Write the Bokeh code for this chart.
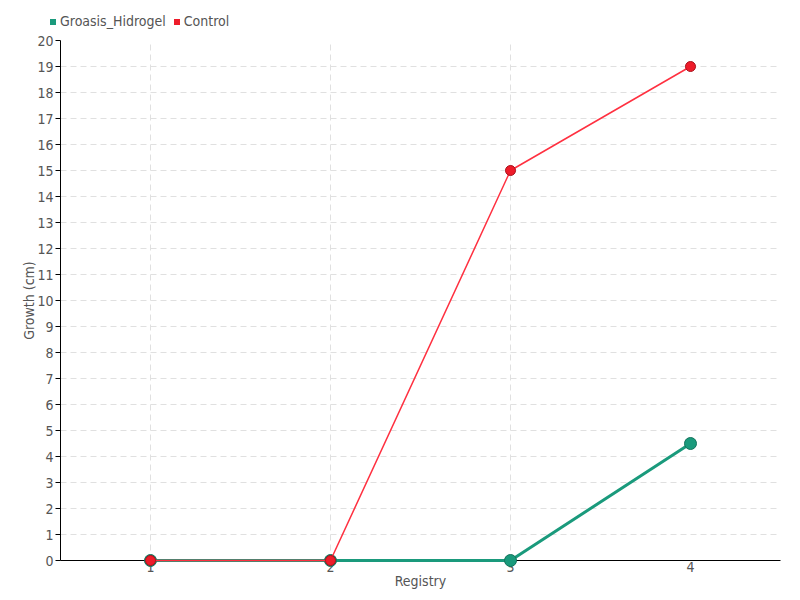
from bokeh.plotting import figure
from bokeh.models import (ColumnDataSource, FixedTicker, Legend, LegendItem,
                          Range1d, FactorRange)
from bokeh.embed import file_html
from bokeh.resources import INLINE

registry = ["1", "2", "3", "4"]
groasis = [0, 0, 0, 4.5]
control = [0, 0, 15, 19]
y_ticks = list(range(0, 21))

FONT = "DejaVu Sans Condensed"
TXT = "#555555"
GREEN = "#1a9a7c"
RED = "#ee1c2a"

src = ColumnDataSource(dict(x=registry, g=groasis, c=control))

# legend strip
lg = figure(x_range=FactorRange(*registry), y_range=Range1d(0, 20),
            width=800, height=30, min_border=0,
            x_axis_type=None, y_axis_type=None,
            output_backend="svg", toolbar_location=None)
lg.outline_line_color = None
lg.xgrid.visible = False
lg.ygrid.visible = False
gleg = lg.scatter("x", "g", source=src, marker="square", size=0, fill_color=GREEN, line_color=None)
cleg = lg.scatter("x", "c", source=src, marker="square", size=0, fill_color=RED, line_color=None)
legend = Legend(items=[LegendItem(label="Groasis_Hidrogel", renderers=[gleg]),
                       LegendItem(label="Control", renderers=[cleg])],
                orientation="horizontal", location=(45, 1),
                background_fill_alpha=0, border_line_color=None,
                glyph_width=15, glyph_height=15, label_standoff=0, spacing=3,
                padding=0, margin=0,
                label_text_font=FONT, label_text_font_size="14px", label_text_color=TXT,
                label_height=15)
lg.add_layout(legend, "center")

# main chart
p = figure(x_range=FactorRange(*registry), y_range=Range1d(0, 20),
           width=800, height=570,
           min_border_left=60, min_border_right=20, min_border_top=10, min_border_bottom=40,
           output_backend="svg", toolbar_location=None)
p.outline_line_color = None

p.line("x", "g", source=src, line_color=GREEN, line_width=3, level="annotation")
p.scatter("x", "g", source=src, size=12, fill_color=GREEN, line_color="#13735c", line_width=1,
          level="annotation")
p.line("x", "c", source=src, line_color="#ff3040", line_width=1.5, level="annotation")
p.scatter("x", "c", source=src, size=10, fill_color=RED, line_color="#a8101a", line_width=1,
          level="annotation")

p.yaxis.ticker = FixedTicker(ticks=y_ticks)
p.xaxis.axis_label = "Registry"
p.yaxis.axis_label = "Growth (cm)"
for ax in (p.xaxis[0], p.yaxis[0]):
    ax.axis_line_color = "black"
    ax.axis_line_width = 1
    ax.major_tick_line_color = "black"
    ax.minor_tick_line_color = None
    ax.major_label_text_font = FONT
    ax.major_label_text_font_size = "14px"
    ax.major_label_text_color = TXT
    ax.axis_label_text_font = FONT
    ax.axis_label_text_font_size = "14px"
    ax.axis_label_text_font_style = "normal"
    ax.axis_label_text_color = TXT
p.yaxis.major_tick_out = 5
p.yaxis.major_tick_in = 0
p.yaxis.major_label_standoff = 2
p.yaxis.axis_label_standoff = -3
p.xaxis.major_tick_out = 0
p.xaxis.major_tick_in = 0
p.xaxis.major_label_standoff = 1
p.xaxis.axis_label_standoff = -2

for g in (p.xgrid[0], p.ygrid[0]):
    g.grid_line_color = "#e0e0e0"
    g.grid_line_dash = "6 4"
    g.grid_line_width = 1

open("out.html", "w").write(file_html([lg, p], INLINE))
